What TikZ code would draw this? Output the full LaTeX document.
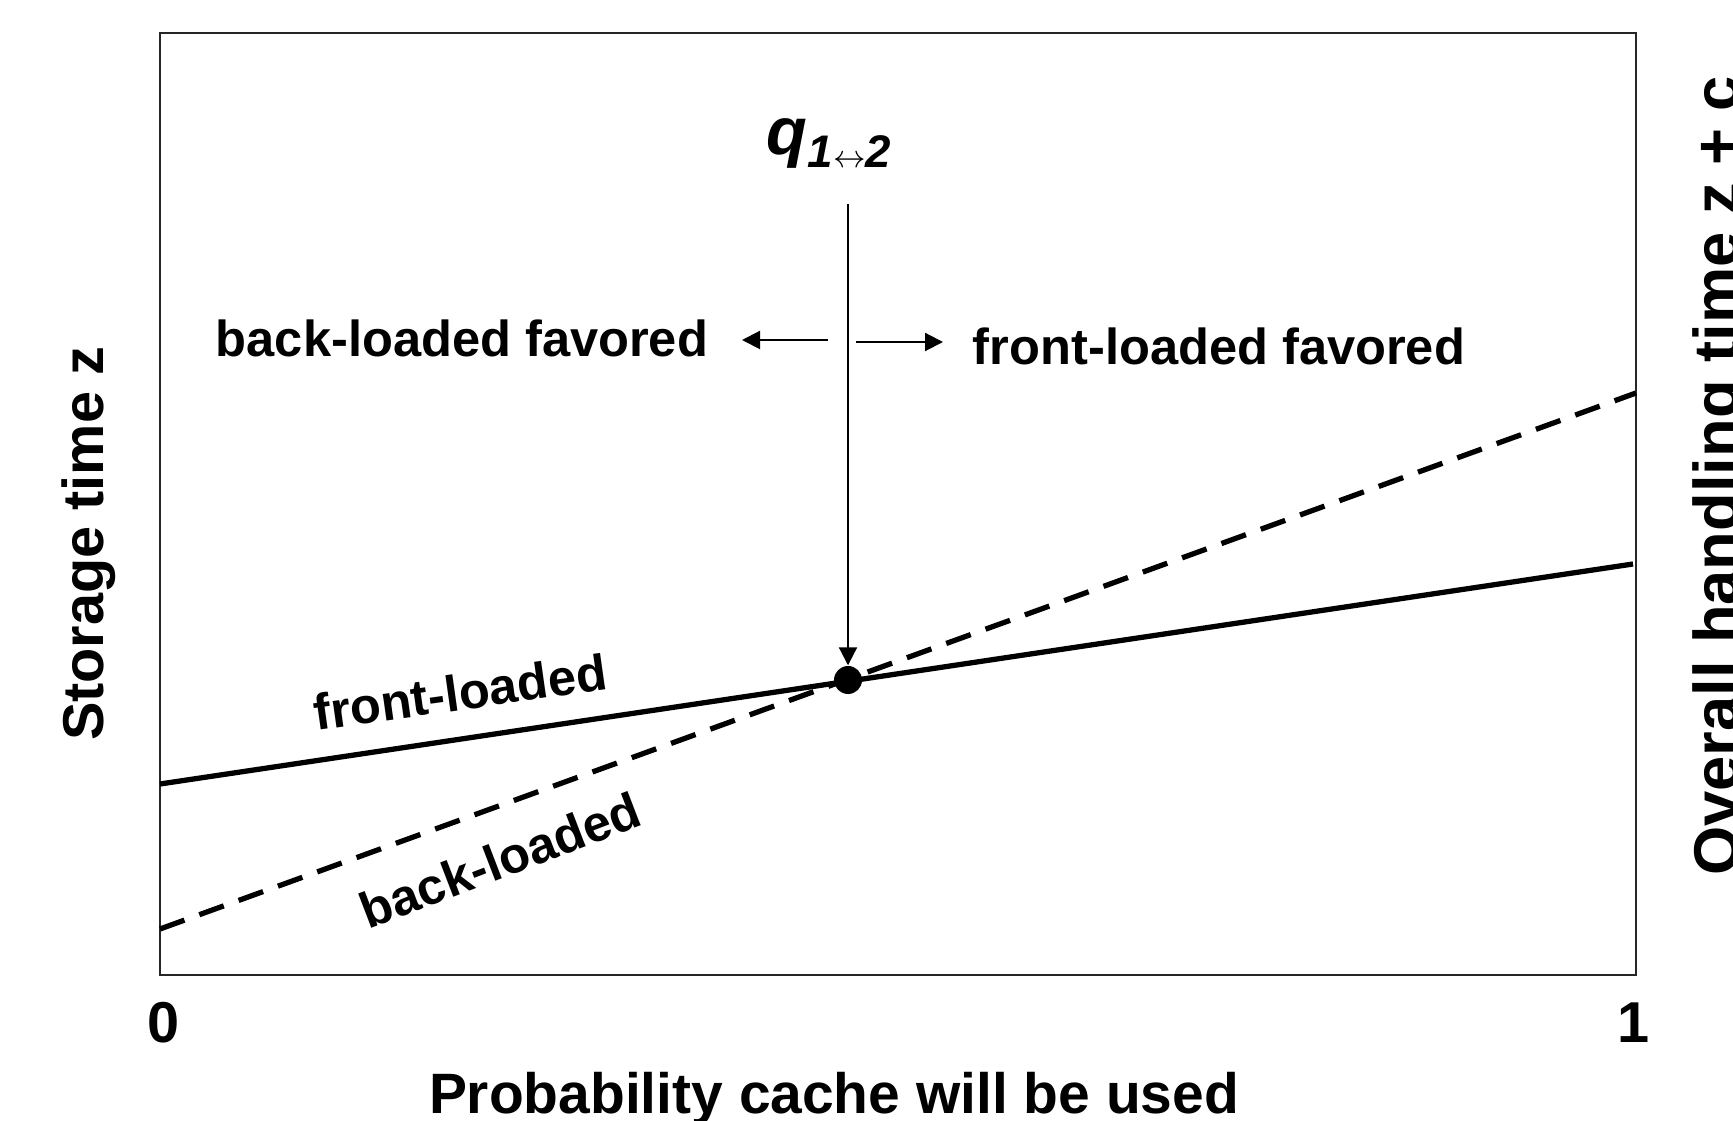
\documentclass[tikz,border=0pt]{standalone}
\usepackage{fontspec}
\setmainfont{Liberation Sans}
\usetikzlibrary{arrows.meta}

\begin{document}
\begin{tikzpicture}[
    lbl/.style={font=\bfseries\fontsize{14.4}{17}\selectfont, inner sep=0pt},
    axlbl/.style={font=\bfseries\fontsize{16.4}{20}\selectfont, inner sep=0pt},
    curve/.style={line width=1.5pt},
    pointer/.style={line width=0.6pt, -{Triangle[length=1.8mm,width=1.8mm]}}
  ]
    \useasboundingbox (0,0) rectangle (17.33,11.20);
    \draw[line width=0.8pt, black!85] (1.60,1.45) rectangle (16.36,10.87);
    % the two strategies
    \coordinate (f0) at (1.60,3.36);
    \coordinate (f1) at (16.33,5.56);
    \coordinate (b0) at (1.60,1.91);
    \coordinate (b1) at (16.36,7.27);
    \draw[curve] (f0) -- (f1);
    \draw[curve, dash pattern=on 7.4pt off 4.5pt] (b0) -- (b1);
    \node[circle, fill, inner sep=0pt, minimum size=2.8mm] (cross) at (8.48,4.40) {};
    \node[lbl, rotate=8] (front) at (4.60,4.28) {front-loaded};
    \node[lbl, rotate=21] (back) at (5.00,2.60) {back-loaded};
    % switch point
    \node[anchor=base, inner sep=0pt] (qlbl) at (8.29,9.65)
        {\bfseries\itshape\fontsize{19}{21}\selectfont q\fontsize{13}{15}\selectfont\raisebox{-3.7pt}{1$\scriptstyle\leftrightarrow$2}};
    \coordinate (qtop) at (8.48,9.16);
    \draw[pointer] (qtop) -- (cross.north);
    \coordinate (lsplit) at (8.28,7.80);
    \coordinate (lend) at (7.42,7.80);
    \coordinate (rsplit) at (8.56,7.78);
    \coordinate (rend) at (9.43,7.78);
    \draw[pointer] (lsplit) -- (lend);
    \draw[pointer] (rsplit) -- (rend);
    \node[lbl] (backfav) at (4.62,7.82) {back-loaded favored};
    \node[lbl] (frontfav) at (12.19,7.74) {front-loaded favored};
    % axes
    \node[axlbl, anchor=base] (zero) at (1.64,0.78) {0};
    \node[axlbl, anchor=base] (one) at (16.33,0.78) {1};
    \node[axlbl, anchor=base, font=\bfseries\fontsize{16.2}{20}\selectfont] (xlbl) at (8.34,0.07) {Probability cache will be used};
    \node[axlbl, anchor=base, rotate=90] (ylbl) at (1.04,5.76) {Storage time z};
    \node[anchor=base, rotate=90, inner sep=0pt, font=\bfseries\fontsize{18}{22}\selectfont] (y2lbl) at (17.38,6.44) {Overall handling time z + c};
\end{tikzpicture}
\end{document}
